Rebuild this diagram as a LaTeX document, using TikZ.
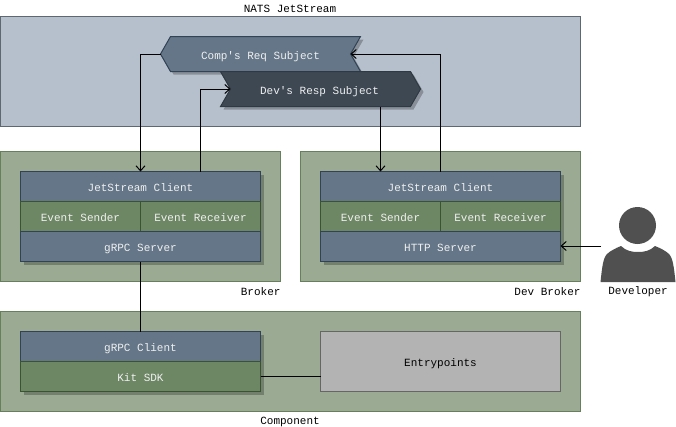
\documentclass[tikz,border=0pt]{standalone}
\usepackage{fontspec}
\setmonofont{Liberation Mono}
\usetikzlibrary{arrows.meta,calc}
\definecolor{natsfill}{HTML}{B6C0CC}
\definecolor{natsline}{HTML}{5E6872}
\definecolor{groupfill}{HTML}{9BAB93}
\definecolor{groupline}{HTML}{66805C}
\definecolor{bluefill}{HTML}{647687}
\definecolor{blueline}{HTML}{314354}
\definecolor{greenfill}{HTML}{6D8764}
\definecolor{greenline}{HTML}{3A5431}
\definecolor{darkfill}{HTML}{3D4853}
\definecolor{darkline}{HTML}{2F3943}
\definecolor{greyfill}{HTML}{B3B3B3}
\definecolor{greyline}{HTML}{666666}
\definecolor{persona}{HTML}{505050}
\definecolor{labeltext}{HTML}{F0F0F0}
\tikzset{
  base/.style={rectangle,inner sep=0pt,outer sep=0pt,line width=1pt,font=\ttfamily\fontsize{11}{13}\selectfont,anchor=center,text height=9pt,text depth=0pt},
  natsbox/.style={base,draw=natsline,fill=natsfill},
  groupbox/.style={base,draw=groupline,fill=groupfill},
  bluebox/.style={base,draw=blueline,fill=bluefill,text=labeltext},
  greenbox/.style={base,draw=greenline,fill=greenfill,text=labeltext},
  greybox/.style={base,draw=greyline,fill=greyfill,text=black},
  caption/.style={inner sep=0pt,outer sep=0pt,font=\ttfamily\fontsize{11}{13}\selectfont,text=black},
  shadowbox/.style={fill=black,fill opacity=.25,draw=none},
  subjecttext/.style={base,text=labeltext},
  conn/.style={line width=1pt,draw=black},
  arr/.style={conn,-{Straight Barb[length=5pt,width=9pt,line width=1pt]}},
}
\newcommand{\bx}[7]{\node[#1,minimum width={(#4)-(#2)},minimum height={(#5)-(#3)}] (#6) at ({((#2)+(#4))/2},{((#3)+(#5))/2}) {#7};}
\newcommand{\shd}[4]{\fill[shadowbox] (#1+3,#2+3) rectangle (#3+3,#4+3);}
\begin{document}
\begin{tikzpicture}[x=1pt,y=-1pt]
\useasboundingbox (0,0) rectangle (676,426);
% containers
\bx{natsbox}{0.5}{16.5}{580.5}{126.5}{nats}{}
\bx{groupbox}{0.5}{151.5}{280.5}{281.5}{broker}{}
\bx{groupbox}{300.5}{151.5}{580.5}{281.5}{devbroker}{}
\bx{groupbox}{0.5}{311.5}{580.5}{411.5}{component}{}
% shadows
\shd{20.5}{171.5}{260.5}{261.5}
\shd{320.5}{171.5}{560.5}{261.5}
\shd{20.5}{331.5}{260.5}{391.5}
% subjects
\node[subjecttext,minimum width=200pt,minimum height=35pt] (req) at (260.5,54) {};
\node[subjecttext,minimum width=200pt,minimum height=35pt] (resp) at (320.5,89) {};
\coordinate (reqnotch) at ($(req.east)+(-10,0)$);
\coordinate (respnotch) at ($(resp.west)+(10,0)$);
\fill[shadowbox] ($(req.west)+(3,3)$) -- ($(req.north west)+(13,3)$) -- ($(req.north east)+(3,3)$) -- ($(reqnotch)+(3,3)$) -- ($(req.south east)+(3,3)$) -- ($(req.south west)+(13,3)$) -- cycle;
\draw[line width=1pt,draw=blueline,fill=bluefill] (req.west) -- ($(req.north west)+(10,0)$) -- (req.north east) -- (reqnotch) -- (req.south east) -- ($(req.south west)+(10,0)$) -- cycle;
\node[subjecttext] (reqlabel) at ($(req.center)+(0,1)$) {Comp's Req Subject};
\fill[shadowbox] ($(resp.north west)+(3,3)$) -- ($(resp.north east)+(-7,3)$) -- ($(resp.east)+(3,3)$) -- ($(resp.south east)+(-7,3)$) -- ($(resp.south west)+(3,3)$) -- ($(respnotch)+(3,3)$) -- cycle;
\draw[line width=1pt,draw=darkline,fill=darkfill] (resp.north west) -- ($(resp.north east)+(-10,0)$) -- (resp.east) -- ($(resp.south east)+(-10,0)$) -- (resp.south west) -- (respnotch) -- cycle;
\node[subjecttext] (resplabel) at ($(resp.center)+(-1,1)$) {Dev's Resp Subject};
% broker
\bx{bluebox}{20.5}{171.5}{260.5}{201.5}{bjs}{JetStream Client}
\bx{greenbox}{20.5}{201.5}{140.5}{231.5}{bsend}{Event Sender}
\bx{greenbox}{140.5}{201.5}{260.5}{231.5}{brecv}{Event Receiver}
\bx{bluebox}{20.5}{231.5}{260.5}{261.5}{bgrpc}{gRPC Server}
% dev broker
\bx{bluebox}{320.5}{171.5}{560.5}{201.5}{djs}{JetStream Client}
\bx{greenbox}{320.5}{201.5}{440.5}{231.5}{dsend}{Event Sender}
\bx{greenbox}{440.5}{201.5}{560.5}{231.5}{drecv}{Event Receiver}
\bx{bluebox}{320.5}{231.5}{560.5}{261.5}{dhttp}{HTTP Server}
% component
\bx{bluebox}{20.5}{331.5}{260.5}{361.5}{cgrpc}{gRPC Client}
\bx{greenbox}{20.5}{361.5}{260.5}{391.5}{ckit}{Kit SDK}
\bx{greybox}{320.5}{331.5}{560.5}{391.5}{entry}{Entrypoints}
% developer figure
\node[circle,fill=persona,inner sep=0pt,outer sep=0pt,minimum size=37pt] (devhead) at (637.5,225.5) {};
\fill[persona] (600.5,282) .. controls (602,268) and (603,258) .. (607,254) .. controls (610,251) and (616,248) .. (621,246) .. controls (626,251) and (632,252) .. (638,252) .. controls (644,252) and (650,251) .. (655,246) .. controls (660,248) and (666,251) .. (669,254) .. controls (673,258) and (674,268) .. (675.5,282) -- cycle;
\coordinate (devperson) at (601,246);
% connectors
\draw[arr] (req.west) -| (bjs.north);
\coordinate (bout) at ($(bjs.north)+(60,0)$);
\draw[arr] (bout) |- (respnotch);
\coordinate (dinx) at ($(djs.north)+(-60,0)$);
\draw[arr] (resp.south -| dinx) -- (dinx);
\draw[arr] (djs.north) |- (reqnotch);
\draw[conn] (bgrpc.south) -- (cgrpc.north);
\draw[conn] (ckit.east) -- (ckit.east -| entry.west);
\draw[arr] (devperson) -- (devperson -| dhttp.east);
% captions
\node[caption] (lnats) at (290,8.5) {NATS JetStream};
\node[caption,anchor=east] (lbroker) at (280.5,291.5) {Broker};
\node[caption,anchor=east] (ldev) at (580.5,291.5) {Dev Broker};
\node[caption] (lcomp) at (290,421.5) {Component};
\node[caption] (ldeveloper) at (638,291.5) {Developer};
\end{tikzpicture}
\end{document}
